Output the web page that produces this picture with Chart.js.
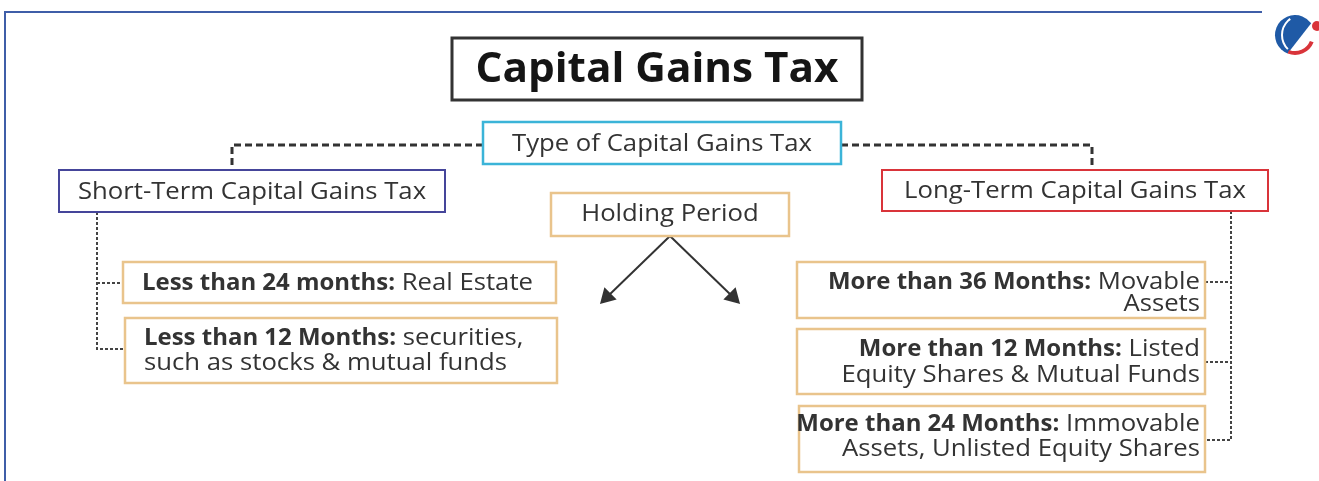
<!DOCTYPE html>
<html>
<head>
<meta charset="utf-8">
<script src="https://cdn.jsdelivr.net/npm/chart.js@4.4.1/dist/chart.umd.min.js"></script>
<style>
  html, body { margin: 0; padding: 0; background: #fff; }
  #wrap { width: 1319px; height: 481px; }
</style>
</head>
<body>
<div id="wrap"><canvas id="chart-diagram" width="1319" height="481"></canvas></div>
<script>
// texts of the diagram
const titleText = 'Capital Gains Tax';
const typeText = 'Type of Capital Gains Tax';
const termLabels = ['Short-Term Capital Gains Tax', 'Long-Term Capital Gains Tax'];
const holdingText = 'Holding Period';
const shortPeriods = ['Less than 24 months:', 'Less than 12 Months:'];
const shortAssets = ['Real Estate', 'securities,\nsuch as stocks & mutual funds'];
const longPeriods = ['More than 36 Months:', 'More than 12 Months:', 'More than 24 Months:'];
const longAssets = ['Movable\nAssets', 'Listed\nEquity Shares & Mutual Funds', 'Immovable\nAssets, Unlisted Equity Shares'];

// layout in page units (0..1319 x 0..481)
const layout = {
    title: { x0: 452, y0: 38, x1: 862, y1: 100 },
    type: { x0: 483, y0: 122, x1: 841, y1: 164, railY: 145 },
    short: { x0: 59, y0: 170, x1: 445, y1: 212, stem: 232 },
    long: { x0: 882, y0: 170, x1: 1268, y1: 211, stem: 1092 },
    holding: { x0: 551, y0: 193, x1: 789, y1: 236 },
    arrowEnds: [607, 733],
    arrowY: 297,
    leftRail: 97,
    rightRail: 1231,
    leftBoxes: [
        { x0: 123, y0: 262, x1: 556, y1: 303, branch: 283, lines: [283] },
        { x0: 125, y0: 318, x1: 557, y1: 383, branch: 349, lines: [338, 363] }
    ],
    rightBoxes: [
        { x0: 797, y0: 262, x1: 1205, y1: 318, branch: 282, lines: [282, 304] },
        { x0: 797, y0: 329, x1: 1205, y1: 394, branch: 362, lines: [349, 375] },
        { x0: 799, y0: 406, x1: 1205, y1: 472, branch: 440, lines: [424, 449] }
    ]
};

const fontFamily = '"Open Sans", "DejaVu Sans", sans-serif';
const textColor = '#333333';

// connectors built from the layout
const heavyDash = { borderColor: '#333333', borderWidth: 3, borderDash: [7, 4] };
const fineDash = { borderColor: '#444444', borderWidth: 2, borderDash: [3, 2] };
const connectorSets = [];
connectorSets.push(Object.assign({
    data: [{ x: layout.type.x0, y: layout.type.railY }, { x: layout.short.stem, y: layout.type.railY }, { x: layout.short.stem, y: layout.short.y0 }]
}, heavyDash));
connectorSets.push(Object.assign({
    data: [{ x: layout.type.x1, y: layout.type.railY }, { x: layout.long.stem, y: layout.type.railY }, { x: layout.long.stem, y: layout.long.y0 }]
}, heavyDash));
const lastLeft = layout.leftBoxes[layout.leftBoxes.length - 1];
connectorSets.push(Object.assign({
    data: [{ x: layout.leftRail, y: layout.short.y1 }, { x: layout.leftRail, y: lastLeft.branch }, { x: lastLeft.x0, y: lastLeft.branch }]
}, fineDash));
layout.leftBoxes.slice(0, -1).forEach(b => {
    connectorSets.push(Object.assign({
        data: [{ x: layout.leftRail, y: b.branch }, { x: b.x0, y: b.branch }]
    }, fineDash));
});
const lastRight = layout.rightBoxes[layout.rightBoxes.length - 1];
connectorSets.push(Object.assign({
    data: [{ x: layout.rightRail, y: layout.long.y1 }, { x: layout.rightRail, y: lastRight.branch }, { x: lastRight.x1, y: lastRight.branch }]
}, fineDash));
layout.rightBoxes.slice(0, -1).forEach(b => {
    connectorSets.push(Object.assign({
        data: [{ x: b.x1, y: b.branch }, { x: layout.rightRail, y: b.branch }]
    }, fineDash));
});
const hx = (layout.holding.x0 + layout.holding.x1) / 2;
layout.arrowEnds.forEach((ex, i) => {
    connectorSets.push({
        data: [{ x: hx, y: layout.holding.y1 }, { x: ex, y: layout.arrowY }],
        borderColor: '#333333',
        borderWidth: 2,
        pointStyle: 'triangle',
        pointRadius: [0, 8],
        pointRotation: [0, i === 0 ? 225 : 135],
        pointBackgroundColor: '#333333',
        pointBorderColor: '#333333'
    });
});
connectorSets.forEach(ds => {
    ds.showLine = true;
    ds.fill = false;
    if (ds.pointRadius === undefined) ds.pointRadius = 0;
});

function toPx(chart, b) {
    const xs = chart.scales.x, ys = chart.scales.y;
    return { x0: xs.getPixelForValue(b.x0), x1: xs.getPixelForValue(b.x1), y0: ys.getPixelForValue(b.y0), y1: ys.getPixelForValue(b.y1) };
}

function drawBox(ctx, chart, b, color, width) {
    const p = toPx(chart, b);
    ctx.save();
    ctx.fillStyle = '#ffffff';
    ctx.fillRect(p.x0, p.y0, p.x1 - p.x0, p.y1 - p.y0);
    ctx.strokeStyle = color;
    ctx.lineWidth = width;
    ctx.strokeRect(p.x0, p.y0, p.x1 - p.x0, p.y1 - p.y0);
    ctx.restore();
}

// runs: [{text, bold}] drawn on one line; regular and bold each get their own stretch
function fontOf(bold, size) {
    return (bold ? '700 ' : '400 ') + size + 'px ' + fontFamily;
}
function runWidth(ctx, runs, size, sx) {
    let w = 0;
    runs.forEach(r => {
        ctx.font = fontOf(r.bold, size);
        w += ctx.measureText(r.text).width * (r.bold ? sx.bold : sx.regular);
    });
    return w;
}
function drawRuns(ctx, runs, x, y, align, size, sx, color) {
    const total = runWidth(ctx, runs, size, sx);
    let cx = align === 'left' ? x : align === 'right' ? x - total : x - total / 2;
    ctx.save();
    ctx.fillStyle = color || textColor;
    ctx.textBaseline = 'middle';
    ctx.textAlign = 'left';
    runs.forEach(r => {
        ctx.font = fontOf(r.bold, size);
        const k = r.bold ? sx.bold : sx.regular;
        const w = ctx.measureText(r.text).width;
        ctx.save();
        ctx.translate(cx, y);
        ctx.scale(k, 1);
        ctx.fillText(r.text, 0, 0);
        ctx.restore();
        cx += w * k;
    });
    ctx.restore();
}

const diagramPlugin = {
    id: 'diagram',
    beforeDatasetsDraw(chart) {
        const ctx = chart.ctx;
        const xs = chart.scales.x, ys = chart.scales.y;
        // frame
        ctx.save();
        ctx.strokeStyle = '#3f5ea8';
        ctx.lineWidth = 2;
        ctx.beginPath();
        ctx.moveTo(xs.getPixelForValue(5), ys.getPixelForValue(481));
        ctx.lineTo(xs.getPixelForValue(5), ys.getPixelForValue(12));
        ctx.lineTo(xs.getPixelForValue(1262), ys.getPixelForValue(12));
        ctx.stroke();
        // logo
        const lx = xs.getPixelForValue(1295), ly = ys.getPixelForValue(35);
        ctx.fillStyle = '#1f5aa6';
        ctx.beginPath();
        ctx.arc(lx, ly, 20, Math.PI * 0.62, Math.PI * 1.8);
        ctx.closePath();
        ctx.fill();
        ctx.strokeStyle = '#ffffff';
        ctx.lineWidth = 2;
        ctx.beginPath();
        ctx.arc(lx + 7, ly, 20, Math.PI * 0.75, Math.PI * 1.3);
        ctx.stroke();
        ctx.strokeStyle = '#d9343a';
        ctx.lineWidth = 4;
        ctx.beginPath();
        ctx.arc(lx, ly, 18, Math.PI * 0.12, Math.PI * 0.62);
        ctx.stroke();
        ctx.fillStyle = '#d9343a';
        ctx.beginPath();
        ctx.arc(lx + 22, ly - 9, 5, 0, Math.PI * 2);
        ctx.fill();
        ctx.restore();
    },
    afterDatasetsDraw(chart) {
        const ctx = chart.ctx;
        const ys = chart.scales.y;
        const size = 23;
        ctx.font = fontOf(false, size);
        const regular = 300 / ctx.measureText(typeText).width;
        ctx.font = fontOf(true, size);
        const bold = 253 / ctx.measureText(shortPeriods[0]).width;
        const sx = { regular, bold };

        // title
        drawBox(ctx, chart, layout.title, '#333333', 3);
        ctx.font = fontOf(true, 41);
        const tsx = 363 / ctx.measureText(titleText).width;
        const tp = toPx(chart, layout.title);
        drawRuns(ctx, [{ text: titleText, bold: true }], (tp.x0 + tp.x1) / 2, (tp.y0 + tp.y1) / 2 + 1, 'center', 41, { regular: tsx, bold: tsx }, '#151515');

        // type
        drawBox(ctx, chart, layout.type, '#3bb4d8', 2.5);
        let p = toPx(chart, layout.type);
        drawRuns(ctx, [{ text: typeText }], (p.x0 + p.x1) / 2, (p.y0 + p.y1) / 2 + 1, 'center', size, sx);

        // short / long
        drawBox(ctx, chart, layout.short, '#45459a', 2);
        p = toPx(chart, layout.short);
        drawRuns(ctx, [{ text: termLabels[0] }], (p.x0 + p.x1) / 2, (p.y0 + p.y1) / 2 + 1, 'center', size, sx);
        drawBox(ctx, chart, layout.long, '#d9343a', 2);
        p = toPx(chart, layout.long);
        drawRuns(ctx, [{ text: termLabels[1] }], (p.x0 + p.x1) / 2, (p.y0 + p.y1) / 2 + 1, 'center', size, sx);

        // holding
        drawBox(ctx, chart, layout.holding, '#e9c48c', 2.5);
        p = toPx(chart, layout.holding);
        drawRuns(ctx, [{ text: holdingText }], (p.x0 + p.x1) / 2, (p.y0 + p.y1) / 2, 'center', size, sx);

        // left boxes
        layout.leftBoxes.forEach((b, i) => {
            drawBox(ctx, chart, b, '#e9c48c', 2.5);
            const parts = shortAssets[i].split('\n');
            const pb = toPx(chart, b);
            const tx = pb.x0 + 19;
            parts.forEach((line, j) => {
                const runs = j === 0 ? [{ text: shortPeriods[i], bold: true }, { text: ' ' + line }] : [{ text: line }];
                drawRuns(ctx, runs, tx, ys.getPixelForValue(b.lines[j]), 'left', size, sx);
            });
        });

        // right boxes
        layout.rightBoxes.forEach((b, i) => {
            drawBox(ctx, chart, b, '#e9c48c', 2.5);
            const parts = longAssets[i].split('\n');
            const pb = toPx(chart, b);
            const tx = pb.x1 - 5;
            parts.forEach((line, j) => {
                const runs = j === 0 ? [{ text: longPeriods[i], bold: true }, { text: ' ' + line }] : [{ text: line }];
                drawRuns(ctx, runs, tx, ys.getPixelForValue(b.lines[j]), 'right', size, sx);
            });
        });
    }
};

const ctxDiagram = document.getElementById('chart-diagram').getContext('2d');
new Chart(ctxDiagram, {
    type: 'scatter',
    data: { datasets: connectorSets },
    options: {
        responsive: false,
        animation: false,
        layout: { padding: 0, autoPadding: false },
        plugins: { legend: { display: false }, tooltip: { enabled: false } },
        scales: {
            x: { type: 'linear', min: 0, max: 1319, display: false },
            y: { type: 'linear', min: 0, max: 481, reverse: true, display: false }
        }
    },
    plugins: [diagramPlugin]
});
</script>
</body>
</html>
